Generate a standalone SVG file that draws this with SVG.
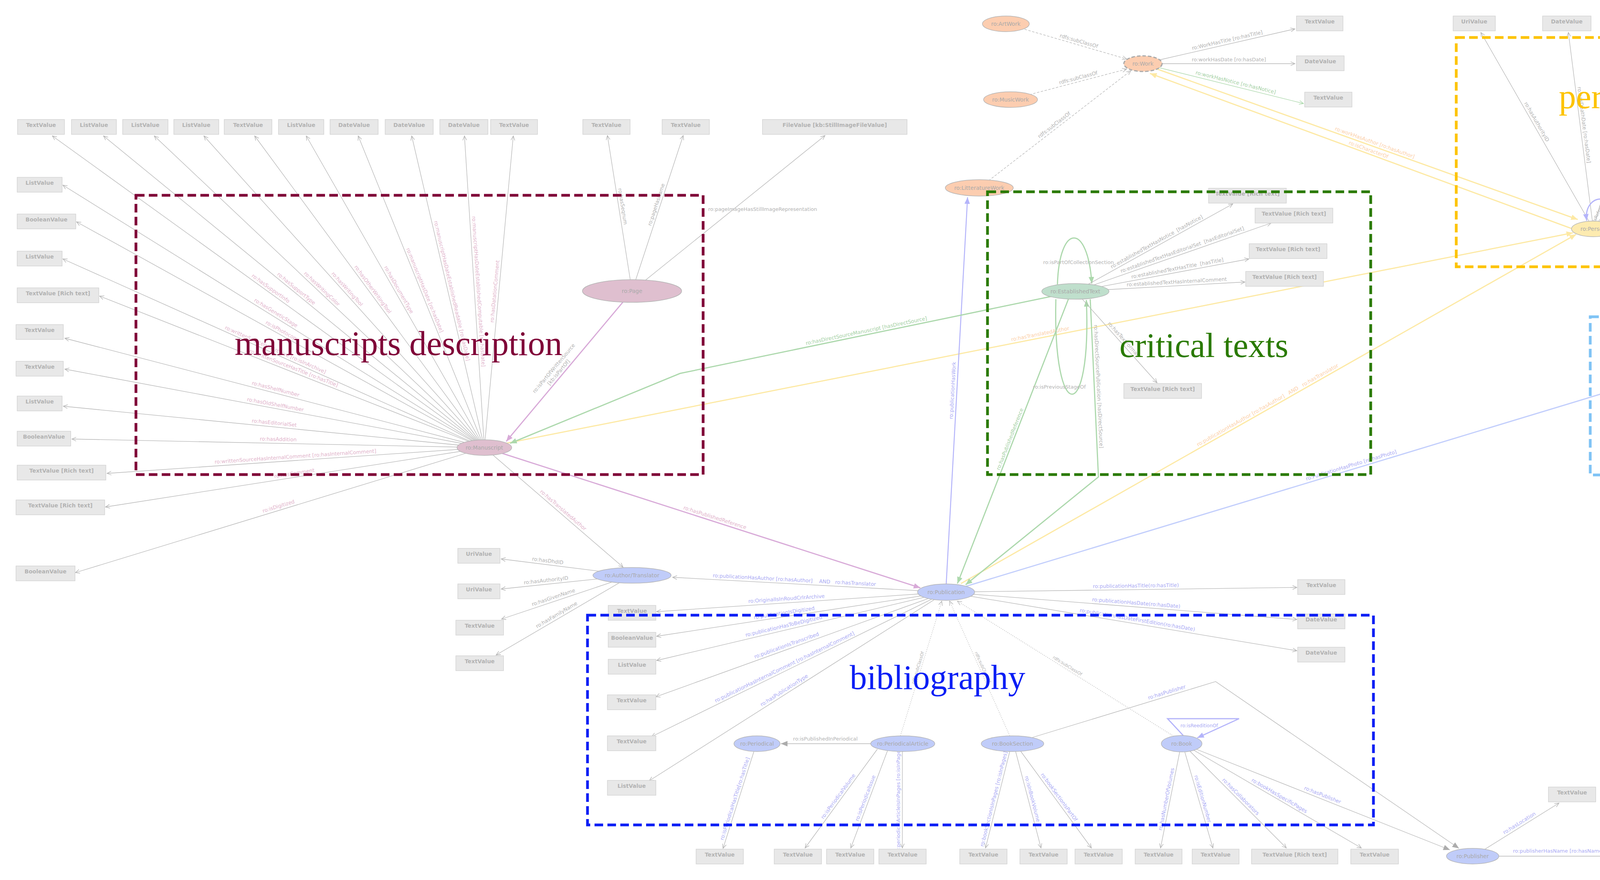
<svg xmlns="http://www.w3.org/2000/svg" width="5797" height="2253" viewBox="0 0 5797 2253">
<style>
.e{fill:none;stroke:#b4b4b4;stroke-width:1.3}
.ed{stroke-dasharray:6,4}
.ep{stroke-dasharray:2,3}
.tk{fill:none;stroke-width:3}
.cp{stroke:#d8aad8}.cg{stroke:#acd8ac}.cy{stroke:#fde9a4}.cb{stroke:#b4b4fa}.cl{stroke:#c2cefc}.cv{stroke:#e4d6fa}
.l{font-family:"DejaVu Sans",sans-serif;font-size:13px;text-anchor:middle}
.lp{fill:#dfb2ca}.lg{fill:#b2b2b2}.lb{fill:#a9a9f4}.lgr{fill:#a3cfa3}.lo{fill:#fccfa8}.ll{fill:#ddd0f6}
.bx{fill:#e8e8e8;stroke:#d4d4d4;stroke-width:1.5}
.bt{font-family:"DejaVu Sans",sans-serif;font-size:14px;font-weight:bold;fill:#b2b2b2;text-anchor:middle}
.nd{stroke:#b4b4b4;stroke-width:1.5}
.nt{font-family:"DejaVu Sans",sans-serif;font-size:14px;fill:#a9a9a9;text-anchor:middle}
.nm{fill:#dfbfcf}.nw{fill:#fccdb0}.ne{fill:#bfdfcc}.ny{fill:#fdebb0}.nph{fill:#ddebfb}.nb{fill:#c0ccf9}
.fr{fill:none;stroke-width:7;stroke-dasharray:22,11}
.rt{font-family:"Liberation Serif",serif;font-size:88px;text-anchor:middle}
</style>
<defs>
<marker id="aG" markerUnits="userSpaceOnUse" markerWidth="14" markerHeight="12" refX="12" refY="6" orient="auto"><path d="M1,1 L12,6 L1,11" fill="none" stroke="#b0b0b0" stroke-width="1.3"/></marker>
<marker id="aGr" markerUnits="userSpaceOnUse" markerWidth="14" markerHeight="12" refX="12" refY="6" orient="auto"><path d="M1,1 L12,6 L1,11" fill="none" stroke="#a8d8a8" stroke-width="1.3"/></marker>
<marker id="aL" markerUnits="userSpaceOnUse" markerWidth="14" markerHeight="12" refX="12" refY="6" orient="auto"><path d="M1,1 L12,6 L1,11" fill="none" stroke="#d8c8f6" stroke-width="1.3"/></marker>
<marker id="fP" markerUnits="userSpaceOnUse" markerWidth="18" markerHeight="14" refX="17" refY="7" orient="auto"><path d="M0,0 L17,7 L0,14 Z" fill="#d8aad8"/></marker>
<marker id="fGr" markerUnits="userSpaceOnUse" markerWidth="18" markerHeight="14" refX="17" refY="7" orient="auto"><path d="M0,0 L17,7 L0,14 Z" fill="#acd8ac"/></marker>
<marker id="fY" markerUnits="userSpaceOnUse" markerWidth="18" markerHeight="14" refX="17" refY="7" orient="auto"><path d="M0,0 L17,7 L0,14 Z" fill="#fde9a4"/></marker>
<marker id="fB" markerUnits="userSpaceOnUse" markerWidth="18" markerHeight="14" refX="17" refY="7" orient="auto"><path d="M0,0 L17,7 L0,14 Z" fill="#b4b4fa"/></marker>
<marker id="fBl" markerUnits="userSpaceOnUse" markerWidth="18" markerHeight="14" refX="17" refY="7" orient="auto"><path d="M0,0 L17,7 L0,14 Z" fill="#c2cefc"/></marker>
<marker id="fL" markerUnits="userSpaceOnUse" markerWidth="18" markerHeight="14" refX="17" refY="7" orient="auto-start-reverse"><path d="M0,0 L17,7 L0,14 Z" fill="#e4d6fa"/></marker>
<marker id="fGy" markerUnits="userSpaceOnUse" markerWidth="18" markerHeight="14" refX="17" refY="7" orient="auto"><path d="M0,0 L17,7 L0,14 Z" fill="#acacac"/></marker>
</defs>
<rect x="0" y="0" width="5797" height="2253" fill="#ffffff"/>

<g id="connectors">
<!-- manuscript fan -->
<path class="e" d="M1240,1146 L134,348" marker-end="url(#aG)"/>
<path class="e" d="M1240,1146 L265,348" marker-end="url(#aG)"/>
<path class="e" d="M1240,1146 L395,348" marker-end="url(#aG)"/>
<path class="e" d="M1240,1146 L522,348" marker-end="url(#aG)"/>
<path class="e" d="M1240,1146 L652,348" marker-end="url(#aG)"/>
<path class="e" d="M1240,1146 L784,348" marker-end="url(#aG)"/>
<path class="e" d="M1240,1146 L917,348" marker-end="url(#aG)"/>
<path class="e" d="M1240,1146 L1054,348" marker-end="url(#aG)"/>
<path class="e" d="M1240,1146 L1189,348" marker-end="url(#aG)"/>
<path class="e" d="M1240,1146 L1314,348" marker-end="url(#aG)"/>
<path class="e" d="M1240,1146 L161,474" marker-end="url(#aG)"/>
<path class="e" d="M1240,1146 L196,568" marker-end="url(#aG)"/>
<path class="e" d="M1240,1146 L161,663" marker-end="url(#aG)"/>
<path class="e" d="M1240,1146 L255,758" marker-end="url(#aG)"/>
<path class="e" d="M1240,1146 L166,866" marker-end="url(#aG)"/>
<path class="e" d="M1240,1146 L166,945" marker-end="url(#aG)"/>
<path class="e" d="M1240,1146 L162,1040" marker-end="url(#aG)"/>
<path class="e" d="M1240,1146 L184,1124" marker-end="url(#aG)"/>
<path class="e" d="M1240,1146 L274,1212" marker-end="url(#aG)"/>
<path class="e" d="M1240,1146 L270,1298" marker-end="url(#aG)"/>
<path class="e" d="M1240,1146 L193,1466" marker-end="url(#aG)"/>
<text class="l lp" transform="translate(687 747) rotate(35.8)" y="-6">ro:hasSupportInfo</text>
<text class="l lp" transform="translate(752 747) rotate(39.3)" y="-6">ro:hasSupportType</text>
<text class="l lp" transform="translate(817 747) rotate(43.4)" y="-6">ro:hasWritingColor</text>
<text class="l lp" transform="translate(881 747) rotate(48)" y="-6">ro:hasWritingTool</text>
<text class="l lp" transform="translate(946 747) rotate(53.6)" y="-6">ro:hasOtherWritingTool</text>
<text class="l lp" transform="translate(1012 747) rotate(60.3)" y="-6">ro:hasDocumentType</text>
<text class="l lp" transform="translate(1078 747) rotate(68)" y="-6">ro:manuscriptHasDate [ro:hasDate]</text>
<text class="l lp" transform="translate(1147 747) rotate(76.9)" y="-6">ro:manuscriptHasDateEstablishedReadable [ro:hasDate]</text>
<text class="l lp" transform="translate(1215 747) rotate(86.3)" y="-6">ro:manuscriptHasDateEstablishedComputable [ro:hasDate]</text>
<text class="l lp" transform="translate(1277 747) rotate(-84.7)" y="-6">ro:hasDatationComment</text>
<text class="l lp" transform="translate(701 810) rotate(31.9)" y="-6">ro:hasGeneticStage</text>
<text class="l lp" transform="translate(718 857) rotate(29)" y="-6">ro:isPhotocopy</text>
<text class="l lp" transform="translate(701 905) rotate(24.1)" y="-6">ro:writtenSourceIsInArchive [ro:isInArchive]</text>
<text class="l lp" transform="translate(748 952) rotate(21.5)" y="-6">ro:writtenSourceHasTitle [ro:hasTitle]</text>
<text class="l lp" transform="translate(703 1006) rotate(14.6)" y="-6">ro:hasShelfNumber</text>
<text class="l lp" transform="translate(703 1046) rotate(10.6)" y="-6">ro:hasOldShelfNumber</text>
<text class="l lp" transform="translate(701 1093) rotate(5.6)" y="-6">ro:hasEditorialSet</text>
<text class="l lp" transform="translate(712 1135) rotate(1.2)" y="-6">ro:hasAddition</text>
<text class="l lp" transform="translate(757 1179) rotate(-3.9)" y="-6">ro:writtenSourceHasInternalComment [ro:hasInternalComment]</text>
<text class="l lp" transform="translate(755 1222) rotate(-8.9)" y="-6">ro:hasComment</text>
<text class="l lp" transform="translate(716 1306) rotate(-17)" y="-6">ro:isDigitized</text>

<!-- page -->
<path class="e" d="M1618,745 L1555,347" marker-end="url(#aG)"/>
<path class="e" d="M1618,745 L1749,347" marker-end="url(#aG)"/>
<path class="e" d="M1618,745 L2112,347" marker-end="url(#aG)"/>
<text class="l lg" transform="translate(1584 530) rotate(81)" y="-6">ro:hasSeqnum</text>
<text class="l lg" transform="translate(1690 527) rotate(-71.8)" y="-6">ro:pageHasName</text>
<text class="l lg" x="1813" y="540" style="text-anchor:start">ro:pageImageHasStillImageRepresentation</text>
<path class="tk cp" d="M1595,773 L1296,1130" marker-end="url(#fP)"/>
<text class="l lg" transform="translate(1438 960) rotate(-50)"><tspan x="0" y="-22">ro:isPartOfWrittenSource</tspan><tspan x="0" y="-6">[kb:isPartOf]</tspan></text>

<!-- manuscript to author / publication / person -->
<path class="e" d="M1240,1146 L1595,1452" marker-end="url(#aG)"/>
<text class="l lp" transform="translate(1435 1314) rotate(40.8)" y="-6">ro:hasTranslatedAuthor</text>
<path class="tk cp" d="M1240,1146 L2356,1505" marker-end="url(#fP)"/>
<text class="l lp" transform="translate(1827 1335) rotate(17.8)" y="-6">ro:hasPublishedReference</text>
<path class="tk cy" d="M1240,1146 L4027,596" marker-end="url(#fY)"/>
<text class="l lo" transform="translate(2665 865) rotate(-11.2)" y="-6">ro:hasTranslatedAuthor</text>

<!-- author/translator -->
<path class="e" d="M1618,1473 L1283,1431" marker-end="url(#aG)"/>
<path class="e" d="M1618,1473 L1283,1508" marker-end="url(#aG)"/>
<path class="e" d="M1618,1473 L1284,1585" marker-end="url(#aG)"/>
<path class="e" d="M1618,1473 L1270,1677" marker-end="url(#aG)"/>
<text class="l lg" transform="translate(1401 1446) rotate(7.1)" y="-6">ro:hasDhdID</text>
<text class="l lg" transform="translate(1399 1496) rotate(-6)" y="-6">ro:hasAuthorityID</text>
<text class="l lg" transform="translate(1420 1539) rotate(-18.5)" y="-6">ro:hasGivenName</text>
<text class="l lg" transform="translate(1430 1583) rotate(-30.4)" y="-6">ro:hasFamilyName</text>

<!-- publication -->
<path class="e" d="M2422,1516 L1722,1478" marker-end="url(#aG)"/>
<text class="l lb" transform="translate(2033 1495) rotate(3.1)" y="-6">ro:publicationHasAuthor [ro:hasAuthor]&#160;&#160;&#160;&#160;AND&#160;&#160;&#160;ro:hasTranslator</text>
<path class="e" d="M2422,1516 L1681,1566" marker-end="url(#aG)"/>
<path class="e" d="M2422,1516 L1681,1629" marker-end="url(#aG)"/>
<path class="e" d="M2422,1516 L1681,1691" marker-end="url(#aG)"/>
<path class="e" d="M2422,1516 L1679,1784" marker-end="url(#aG)"/>
<path class="e" d="M2422,1516 L1668,1886" marker-end="url(#aG)"/>
<path class="e" d="M2422,1516 L1662,1999" marker-end="url(#aG)"/>
<text class="l lb" transform="translate(2014 1543) rotate(-3.9)" y="-6">ro:OriginalIsInRoudCrlrArchive</text>
<text class="l lb" transform="translate(2009 1579) rotate(-8.7)" y="-6">ro:publicationIsDigitized</text>
<text class="l lb" transform="translate(2009 1613) rotate(-13.3)" y="-6">ro:publicationHasToBeDigitized</text>
<text class="l lb" transform="translate(2017 1662) rotate(-19.8)" y="-6">ro:publicationIsTranscribed</text>
<text class="l lb" transform="translate(2013 1717) rotate(-26.1)" y="-6">ro:publicationHasInternalComment [ro:hasInternalComment]</text>
<text class="l lb" transform="translate(2013 1776) rotate(-32.4)" y="-6">ro:hasPublicationType</text>
<path class="e" d="M2422,1516 L3320,1504" marker-end="url(#aG)"/>
<path class="e" d="M2422,1516 L3320,1586" marker-end="url(#aG)"/>
<path class="e" d="M2422,1516 L3320,1666" marker-end="url(#aG)"/>
<text class="l lb" transform="translate(2908 1510) rotate(-0.8)" y="-6">ro:publicationHasTitle(ro:hasTitle)</text>
<text class="l lb" transform="translate(2908 1554) rotate(4.5)" y="-6">ro:publicationHasDate(ro:hasDate)</text>
<text class="l lb" transform="translate(2910 1597) rotate(9.5)" y="-6">ro:publicationHasDateFirstEdition(ro:hasDate)</text>
<path class="cb" fill="none" stroke-width="2.5" d="M2422,1500 L2477,505" marker-end="url(#fB)"/>
<text class="l lb" transform="translate(2449 1000) rotate(-86.9)" y="-6">ro:publicationHasWork</text>
<path class="tk cl" d="M2470,1502 L4441,905" marker-end="url(#fBl)"/>
<text class="l lb" transform="translate(3462 1201) rotate(-16.8)" y="-6">ro:PublicationHasPhoto [ro:hasPhoto]</text>
<path class="tk cy" d="M2460,1494 L4035,600" marker-end="url(#fY)"/>
<text class="l lo" transform="translate(3250 1046) rotate(-29.6)" y="-6">ro:publicationHasAuthor [ro:hasAuthor]&#160;&#160;&#160;AND&#160;&#160;&#160;ro:hasTranslator</text>

<!-- established text -->
<path class="tk cg" d="M2710,755 L1741,956 L1306,1135" marker-end="url(#fGr)"/>
<text class="l lgr" transform="translate(2220 857) rotate(-11.7)" y="-6">ro:hasDirectSourceManuscript [hasDirectSource]</text>
<path class="tk cg" d="M2735,766 L2451,1494" marker-end="url(#fGr)"/>
<text class="l lgr" transform="translate(2595 1128) rotate(-68.7)" y="-6">ro:hasPublishedReference</text>
<path class="tk cg" d="M2791,766 L2812,1221 L2472,1497" marker-end="url(#fGr)"/>
<text class="l lg" transform="translate(2802 990) rotate(87.4)" y="-6">ro:hasDirectSourcePublication [hasDirectSource]</text>
<path class="tk cg" d="M2707,728 C2712,570 2785,570 2795,726" marker-end="url(#fGr)"/>
<text class="l lg" x="2761" y="676">ro:isPartOfCollectionSection</text>
<path class="tk cg" d="M2703,766 C2695,1090 2795,1090 2781,768" marker-end="url(#fGr)"/>
<text class="l lg" x="2712" y="995">ro:isPreviousStageOf</text>
<path class="e" d="M2753,746 L3156,522" marker-end="url(#aG)"/>
<path class="e" d="M2753,746 L3254,571" marker-end="url(#aG)"/>
<path class="e" d="M2753,746 L3197,663" marker-end="url(#aG)"/>
<path class="e" d="M2753,746 L3187,722" marker-end="url(#aG)"/>
<path class="e" d="M2753,746 L2962,980" marker-end="url(#aG)"/>
<text class="l lg" transform="translate(2966 628) rotate(-29.1)" y="-6">ro:establishedTextHasNotice&#160;&#160;[hasNotice]</text>
<text class="l lg" transform="translate(3030 649) rotate(-19.3)" y="-6">ro:establishedTextHasEditorialSet&#160;&#160;[hasEditorialSet]</text>
<text class="l lg" transform="translate(3016 697) rotate(-10.6)" y="-6">ro:establishedTextHasTitle&#160;&#160;[hasTitle]</text>
<text class="l lg" transform="translate(3013 732) rotate(-3.2)" y="-6">ro:establishedTextHasInternalComment</text>
<text class="l lg" transform="translate(2868 875) rotate(48.2)" y="-6">ro:hasTextFormat</text>

<!-- work -->
<path class="e" d="M2926,163 L3315,74" marker-end="url(#aG)"/>
<path class="e" d="M2926,163 L3315,163" marker-end="url(#aG)"/>
<path class="e cg" d="M2926,163 L3337,265" marker-end="url(#aGr)"/>
<text class="l lg" transform="translate(3144 113) rotate(-12.9)" y="-6">ro:WorkHasTitle [ro:hasTitle]</text>
<text class="l lg" x="3146" y="157">ro:workHasDate [ro:hasDate]</text>
<text class="l lgr" transform="translate(3161 221) rotate(13.9)" y="-6">ro:workHasNotice [ro:hasNotice]</text>
<path class="e ed" d="M2575,61 L2884,151" marker-end="url(#aG)"/>
<path class="e ed" d="M2587,255 L2884,177" marker-end="url(#aG)"/>
<path class="e ed" d="M2507,481 L2895,181" marker-end="url(#aG)"/>
<text class="l lg" transform="translate(2759 115) rotate(16.2)" y="-6">rdfs:subClassOf</text>
<text class="l lg" transform="translate(2763 209) rotate(-14.7)" y="-6">rdfs:subClassOf</text>
<text class="l lg" transform="translate(2705 328) rotate(-37.7)" y="-6">rdfs:subClassOf</text>
<path class="tk cy" d="M2960,176 L4039,562" marker-end="url(#fY)"/>
<text class="l lo" transform="translate(3516 375) rotate(19.7)" y="-6">ro:workHasAuthor [ro:hasAuthor]</text>
<path class="tk cy" d="M4023,585 L2944,188" marker-end="url(#fY)"/>
<text class="l lo" transform="translate(3500 393) rotate(20.2)" y="-6">ro:isCharacterOf</text>

<!-- person -->
<path class="e" d="M4079,586 L3791,83" marker-end="url(#aG)"/>
<path class="e" d="M4079,586 L4015,83" marker-end="url(#aG)"/>
<path class="e" d="M4079,586 L4220,83" marker-end="url(#aG)"/>
<path class="e" d="M4079,586 L4427,83" marker-end="url(#aG)"/>
<path class="e" d="M4079,586 L4635,82" marker-end="url(#aG)"/>
<path class="e cg" d="M4079,586 L4823,91" marker-end="url(#aGr)"/>
<text class="l lg" transform="translate(3925 317) rotate(60.2)" y="-6">ro:hasAuthorityID</text>
<text class="l lg" transform="translate(4045 321) rotate(82.7)" y="-6">ro:hasDeathDate [ro:hasDate]</text>
<text class="l lg" transform="translate(4153 321) rotate(-74.3)" y="-6">ro:hasBirthDate [ro:hasDate]</text>
<text class="l lg" transform="translate(4265 317) rotate(-55.3)" y="-6">ro:hasGivenName</text>
<text class="l lg" transform="translate(4376 317) rotate(-42.2)" y="-6">ro:hasFamilyName</text>
<text class="l lgr" transform="translate(4473 324) rotate(-33.6)" y="-6">ro:personHasNotice [ro:hasNotice]</text>
<path class="tk cb" d="M4125,572 C4152,492 4052,488 4062,565" marker-end="url(#fB)"/>
<text class="l lg" style="font-size:11px" transform="translate(4098 538) rotate(-65)">ro:isReferenceFor</text>
<path class="tk cl" d="M4126,596 L4458,848" marker-end="url(#fBl)"/>
<text class="l lb" transform="translate(4312 737) rotate(37.2)" y="-6">ro:personHasPhoto [ro:hasPhoto]</text>
<path class="tk cy" d="M4441,852 L4110,603" marker-end="url(#fY)"/>
<text class="l lo" transform="translate(4262 723) rotate(37)" y="16">ro:photoHasTopic [ro:hasTopic]</text>

<!-- bioevent -->
<path class="e" d="M5385,353 L5386,92" marker-end="url(#aG)"/>
<text class="l lg" transform="translate(5385 221) rotate(-90)" y="-6">ro:bioeventHasDate [ro:hasDate]</text>
<path class="e cv" stroke-width="2" d="M5398,354 L5666,151" marker-start="url(#fL)" marker-end="url(#aL)"/>
<text class="l lg" transform="translate(5526 257) rotate(-37.1)" y="-6">ro:bioeventHasTitle [ro:hasTitle]</text>
<path class="e cg" d="M5370,373 L5608,633" marker-end="url(#aGr)"/>
<text class="l lgr" transform="translate(5500 515) rotate(47.5)" y="-6">ro:bioeventHasNotice [ro:hasNotice]</text>
<path class="e cv" stroke-width="2" d="M5601,660 C5450,680 5290,680 5298,560 C5300,500 5330,440 5358,395" marker-end="url(#fL)"/>
<text class="l ll" transform="translate(5459 634) rotate(3)" y="-6">kb:hasStandoffLinkTo</text>
<path class="tk cl" d="M5340,390 L4550,850" marker-end="url(#fBl)"/>
<text class="l lb" transform="translate(4935 626) rotate(-30.2)" y="-6">ro:bioeventHasPhoto [ro:hasPhoto]</text>

<!-- photo -->
<path class="e" d="M4507,878 L4937,863" marker-end="url(#aG)"/>
<path class="e" d="M4507,878 L4937,954" marker-end="url(#aG)"/>
<path class="e" d="M4507,878 L4944,1063" marker-end="url(#aG)"/>
<path class="e cg" d="M4507,878 L4701,1154" marker-end="url(#aGr)"/>
<text class="l lg" transform="translate(4783 868) rotate(-2)" y="-6">ro:photoHasDate [ro:hasDate]</text>
<text class="l lg" transform="translate(4774 925) rotate(10)" y="-6">ro:photoHasShelfNumber [ro:hasShelfNumber]</text>
<text class="l lg" transform="translate(4739 976) rotate(22.9)" y="-6">ro:photoIsInArchive [ro:isInArchive]</text>
<text class="l lgr" transform="translate(4613 1029) rotate(54.9)" y="-6">ro:photoHasNotice [ro:hasNotice]</text>

<!-- place -->
<path class="e cv" stroke-width="2" d="M5600,1297 C5450,1285 5340,1300 5300,1360 C5260,1410 5228,1445 5212,1476" marker-end="url(#fL)"/>
<text class="l ll" transform="translate(5478 1300) rotate(-2)" y="-4">kb:hasStandoffLinkTo</text>
<path class="e cg" d="M5192,1497 L5642,1322" marker-end="url(#aGr)"/>
<path class="e" d="M5192,1497 L5599,1411" marker-end="url(#aG)"/>
<path class="e" d="M5192,1497 L5599,1496" marker-end="url(#aG)"/>
<path class="e" d="M5192,1497 L5599,1572" marker-end="url(#aG)"/>
<text class="l lgr" transform="translate(5438 1401) rotate(-21.3)" y="-6">ro:placeHasNotice [ro:hasNotice]</text>
<text class="l lg" transform="translate(5419 1449) rotate(-11.9)" y="-6">ro:hasLongitude</text>
<text class="l lg" x="5421" y="1491">ro:hasLatitude</text>
<text class="l lg" transform="translate(5423 1540) rotate(10.4)" y="-6">ro:placeHasName (ro:hasName)</text>
<path class="tk cl" d="M5180,1480 L4579,907" marker-end="url(#fBl)"/>
<text class="l lb" transform="translate(4882 1199) rotate(43.9)" y="-6">ro:placeHasPhoto [ro:hasPhoto]</text>

<!-- bibliography -->
<path class="e ep" d="M2305,1884 L2411,1539" marker-end="url(#aG)"/>
<path class="e ep" d="M2585,1884 L2431,1539" marker-end="url(#aG)"/>
<path class="e ep" d="M3005,1885 L2451,1539" marker-end="url(#aG)"/>
<text class="l lg" style="font-size:11px" transform="translate(2358 1712) rotate(-72.9)" y="-5">rdfs:subClassOf</text>
<text class="l lg" style="font-size:11px" transform="translate(2508 1712) rotate(66)" y="-5">rdfs:subClassOf</text>
<text class="l lg" style="font-size:11px" transform="translate(2728 1712) rotate(32)" y="-5">rdfs:subClassOf</text>
<path class="e" stroke-width="2" d="M2229,1904 L1999,1904" marker-end="url(#fGy)"/>
<text class="l lg" x="2113" y="1896">ro:isPublishedInPeriodical</text>
<path class="e" d="M1930,1924 L1851,2172" marker-end="url(#aG)"/>
<text class="l lb" transform="translate(1891 2048) rotate(-72.3)" y="-6">ro:isPeriodicalHasTitle[ro:hasTitle]</text>
<path class="e" d="M2246,1918 L2061,2171" marker-end="url(#aG)"/>
<path class="e" d="M2272,1922 L2178,2171" marker-end="url(#aG)"/>
<path class="e" d="M2310,1924 L2310,2171" marker-end="url(#aG)"/>
<text class="l lb" transform="translate(2154 2045) rotate(-53.8)" y="-6">ro:isPeriodicalVolume</text>
<text class="l lb" transform="translate(2225 2047) rotate(-69.3)" y="-6">ro:isPeriodicalIssue</text>
<text class="l lb" transform="translate(2310 2048) rotate(-90)" y="-6">ro:periodicalArticleIsInPages [ro:isInPages]</text>
<path class="e" d="M2585,1924 L2523,2171" marker-end="url(#aG)"/>
<path class="e" d="M2600,1924 L2665,2171" marker-end="url(#aG)"/>
<path class="e" d="M2612,1922 L2794,2171" marker-end="url(#aG)"/>
<text class="l lb" transform="translate(2554 2048) rotate(-75.9)" y="-6">ro:bookSectionIsInPages [ro:isInPages]</text>
<text class="l lb" transform="translate(2633 2048) rotate(75.3)" y="-6">ro:isInBookVolume</text>
<text class="l lb" transform="translate(2703 2047) rotate(53.8)" y="-6">ro:bookSectionIsPartOf</text>
<path class="e" d="M2643,1888 L3112,1745 L3735,2172" marker-end="url(#fGy)"/>
<text class="l lb" transform="translate(2990 1782) rotate(-17)" y="-6">ro:hasPublisher</text>
<path class="e" d="M3020,1925 L2971,2171" marker-end="url(#aG)"/>
<path class="e" d="M3033,1925 L3105,2171" marker-end="url(#aG)"/>
<path class="e" d="M3045,1922 L3293,2171" marker-end="url(#aG)"/>
<path class="e" d="M3055,1920 L3485,2171" marker-end="url(#aG)"/>
<path class="e" d="M3062,1918 L3712,2176" marker-end="url(#fGy)"/>
<text class="l lb" transform="translate(2996 2048) rotate(-78.7)" y="-6">ro:hasNumberOfVolumes</text>
<text class="l lb" transform="translate(3069 2048) rotate(73.7)" y="-6">ro:isEditionNumber</text>
<text class="l lb" transform="translate(3169 2047) rotate(45.1)" y="-6">ro:hasCollaborators</text>
<text class="l lb" transform="translate(3270 2046) rotate(30.3)" y="-6">ro:bookHasSpecificPages</text>
<text class="l lb" transform="translate(3382 2045) rotate(21.6)" y="-6">ro:hasPublisher</text>
<path class="tk cb" d="M3029,1883 L2989,1840 L3172,1840 L3065,1889" marker-end="url(#fB)"/>
<text class="l lb" style="font-size:12px" x="3070" y="1862">ro:isReeditionOf</text>
<path class="e" d="M3837,2192 L4139,2192" marker-end="url(#aG)"/>
<text class="l lb" x="3990" y="2183">ro:publisherHasName [ro:hasName]</text>
<path class="e" d="M3800,2175 L3991,2056" marker-end="url(#aG)"/>
<text class="l lb" transform="translate(3895 2116) rotate(-31.9)" y="-6">ro:hasLocation</text>
</g>

<g id="values">
<g id="b_t1"><rect class="bx" x="45" y="306" width="120" height="38"/><text class="bt" x="105" y="325">TextValue</text></g>
<g id="b_t2"><rect class="bx" x="183" y="306" width="115" height="38"/><text class="bt" x="240.5" y="325">ListValue</text></g>
<g id="b_t3"><rect class="bx" x="314" y="306" width="116" height="38"/><text class="bt" x="372" y="325">ListValue</text></g>
<g id="b_t4"><rect class="bx" x="445" y="306" width="115" height="38"/><text class="bt" x="502.5" y="325">ListValue</text></g>
<g id="b_t5"><rect class="bx" x="574" y="306" width="122" height="38"/><text class="bt" x="635" y="325">TextValue</text></g>
<g id="b_t6"><rect class="bx" x="713" y="306" width="116" height="38"/><text class="bt" x="771" y="325">ListValue</text></g>
<g id="b_t7"><rect class="bx" x="845" y="306" width="123" height="38"/><text class="bt" x="906.5" y="325">DateValue</text></g>
<g id="b_t8"><rect class="bx" x="986" y="306" width="123" height="38"/><text class="bt" x="1047.5" y="325">DateValue</text></g>
<g id="b_t9"><rect class="bx" x="1126" y="306" width="123" height="38"/><text class="bt" x="1187.5" y="325">DateValue</text></g>
<g id="b_t10"><rect class="bx" x="1256" y="306" width="120" height="38"/><text class="bt" x="1316" y="325">TextValue</text></g>
<g id="b_pg1"><rect class="bx" x="1492" y="306" width="121" height="38"/><text class="bt" x="1552.5" y="325">TextValue</text></g>
<g id="b_pg2"><rect class="bx" x="1695" y="306" width="121" height="38"/><text class="bt" x="1755.5" y="325">TextValue</text></g>
<g id="b_pg3"><rect class="bx" x="1952" y="306" width="370" height="38"/><text class="bt" x="2137" y="325">FileValue [kb:StillImageFileValue]</text></g>
<g id="b_l1"><rect class="bx" x="44" y="454" width="115" height="38"/><text class="bt" x="101.5" y="473">ListValue</text></g>
<g id="b_l2"><rect class="bx" x="44" y="548" width="150" height="38"/><text class="bt" x="119" y="567">BooleanValue</text></g>
<g id="b_l3"><rect class="bx" x="44" y="643" width="115" height="38"/><text class="bt" x="101.5" y="662">ListValue</text></g>
<g id="b_l4"><rect class="bx" x="44" y="737" width="209" height="38"/><text class="bt" x="148.5" y="756">TextValue [Rich text]</text></g>
<g id="b_l5"><rect class="bx" x="41" y="831" width="121" height="38"/><text class="bt" x="101.5" y="850">TextValue</text></g>
<g id="b_l6"><rect class="bx" x="41" y="925" width="121" height="38"/><text class="bt" x="101.5" y="944">TextValue</text></g>
<g id="b_l7"><rect class="bx" x="44" y="1014" width="115" height="38"/><text class="bt" x="101.5" y="1033">ListValue</text></g>
<g id="b_l8"><rect class="bx" x="44" y="1104" width="137" height="38"/><text class="bt" x="112.5" y="1123">BooleanValue</text></g>
<g id="b_l9"><rect class="bx" x="44" y="1191" width="227" height="38"/><text class="bt" x="157.5" y="1210">TextValue [Rich text]</text></g>
<g id="b_l10"><rect class="bx" x="41" y="1280" width="227" height="38"/><text class="bt" x="154.5" y="1299">TextValue [Rich text]</text></g>
<g id="b_l11"><rect class="bx" x="41" y="1449" width="151" height="38"/><text class="bt" x="116.5" y="1468">BooleanValue</text></g>
<g id="b_w1"><rect class="bx" x="3319" y="41" width="119" height="38"/><text class="bt" x="3378.5" y="60">TextValue</text></g>
<g id="b_w2"><rect class="bx" x="3319" y="143" width="122" height="38"/><text class="bt" x="3380" y="162">DateValue</text></g>
<g id="b_w3"><rect class="bx" x="3340" y="236" width="121" height="38"/><text class="bt" x="3400.5" y="255">TextValue</text></g>
<g id="b_c1"><rect class="bx" x="3094" y="482" width="199" height="38"/><text class="bt" x="3193.5" y="501">TextValue [Rich text]</text></g>
<g id="b_c2"><rect class="bx" x="3213" y="533" width="199" height="38"/><text class="bt" x="3312.5" y="552">TextValue [Rich text]</text></g>
<g id="b_c3"><rect class="bx" x="3198" y="624" width="199" height="38"/><text class="bt" x="3297.5" y="643">TextValue [Rich text]</text></g>
<g id="b_c4"><rect class="bx" x="3189" y="695" width="199" height="38"/><text class="bt" x="3288.5" y="714">TextValue [Rich text]</text></g>
<g id="b_c5"><rect class="bx" x="2877" y="982" width="199" height="38"/><text class="bt" x="2976.5" y="1001">TextValue [Rich text]</text></g>
<g id="b_p1"><rect class="bx" x="3720" y="41" width="108" height="38"/><text class="bt" x="3774" y="60">UriValue</text></g>
<g id="b_p2"><rect class="bx" x="3949" y="41" width="124" height="38"/><text class="bt" x="4011" y="60">DateValue</text></g>
<g id="b_p3"><rect class="bx" x="4164" y="41" width="123" height="38"/><text class="bt" x="4225.5" y="60">DateValue</text></g>
<g id="b_p4"><rect class="bx" x="4381" y="41" width="121" height="38"/><text class="bt" x="4441.5" y="60">TextValue</text></g>
<g id="b_p5"><rect class="bx" x="4596" y="41" width="121" height="38"/><text class="bt" x="4656.5" y="60">TextValue</text></g>
<g id="b_p6"><rect class="bx" x="4780" y="50" width="119" height="38"/><text class="bt" x="4839.5" y="69">TextValue</text></g>
<g id="b_e1"><rect class="bx" x="5358" y="50" width="123" height="38"/><text class="bt" x="5419.5" y="69">DateValue</text></g>
<g id="b_e2"><rect class="bx" x="5634" y="112" width="114" height="38"/><text class="bt" x="5691" y="131">TextValue</text></g>
<g id="b_e3"><rect class="bx" x="5601" y="635" width="120" height="38"/><text class="bt" x="5661" y="654">TextValue</text></g>
<g id="b_h1"><rect class="bx" x="4937" y="839" width="124" height="38"/><text class="bt" x="4999" y="858">DateValue</text></g>
<g id="b_h2"><rect class="bx" x="4939" y="941" width="122" height="38"/><text class="bt" x="5000" y="960">TextValue</text></g>
<g id="b_h3"><rect class="bx" x="4942" y="1063" width="115" height="38"/><text class="bt" x="4999.5" y="1082">ListValue</text></g>
<g id="b_h4"><rect class="bx" x="4691" y="1155" width="120" height="38"/><text class="bt" x="4751" y="1174">TextValue</text></g>
<g id="b_q1"><rect class="bx" x="5600" y="1282" width="121" height="38"/><text class="bt" x="5660.5" y="1301">TextValue</text></g>
<g id="b_q2"><rect class="bx" x="5600" y="1378" width="121" height="38"/><text class="bt" x="5660.5" y="1397">TextValue</text></g>
<g id="b_q3"><rect class="bx" x="5600" y="1475" width="121" height="38"/><text class="bt" x="5660.5" y="1494">TextValue</text></g>
<g id="b_q4"><rect class="bx" x="5600" y="1570" width="121" height="38"/><text class="bt" x="5660.5" y="1589">TextValue</text></g>
<g id="b_a1"><rect class="bx" x="1172" y="1404" width="108" height="38"/><text class="bt" x="1226" y="1423">UriValue</text></g>
<g id="b_a2"><rect class="bx" x="1172" y="1495" width="108" height="38"/><text class="bt" x="1226" y="1514">UriValue</text></g>
<g id="b_a3"><rect class="bx" x="1167" y="1588" width="122" height="38"/><text class="bt" x="1228" y="1607">TextValue</text></g>
<g id="b_a4"><rect class="bx" x="1167" y="1679" width="122" height="38"/><text class="bt" x="1228" y="1698">TextValue</text></g>
<g id="b_u1"><rect class="bx" x="1557" y="1550" width="122" height="38"/><text class="bt" x="1618" y="1569">TextValue</text></g>
<g id="b_u2"><rect class="bx" x="1557" y="1619" width="122" height="38"/><text class="bt" x="1618" y="1638">BooleanValue</text></g>
<g id="b_u3"><rect class="bx" x="1557" y="1688" width="122" height="38"/><text class="bt" x="1618" y="1707">ListValue</text></g>
<g id="b_u4"><rect class="bx" x="1555" y="1779" width="124" height="38"/><text class="bt" x="1617" y="1798">TextValue</text></g>
<g id="b_u5"><rect class="bx" x="1555" y="1884" width="124" height="38"/><text class="bt" x="1617" y="1903">TextValue</text></g>
<g id="b_u6"><rect class="bx" x="1555" y="1998" width="124" height="38"/><text class="bt" x="1617" y="2017">ListValue</text></g>
<g id="b_r1"><rect class="bx" x="3322" y="1484" width="121" height="38"/><text class="bt" x="3382.5" y="1503">TextValue</text></g>
<g id="b_r2"><rect class="bx" x="3322" y="1572" width="121" height="38"/><text class="bt" x="3382.5" y="1591">DateValue</text></g>
<g id="b_r3"><rect class="bx" x="3322" y="1657" width="121" height="38"/><text class="bt" x="3382.5" y="1676">DateValue</text></g>
<g id="b_z1"><rect class="bx" x="1782" y="2174" width="121" height="38"/><text class="bt" x="1842.5" y="2193">TextValue</text></g>
<g id="b_z2"><rect class="bx" x="1982" y="2174" width="121" height="38"/><text class="bt" x="2042.5" y="2193">TextValue</text></g>
<g id="b_z3"><rect class="bx" x="2116" y="2174" width="121" height="38"/><text class="bt" x="2176.5" y="2193">TextValue</text></g>
<g id="b_z4"><rect class="bx" x="2250" y="2174" width="121" height="38"/><text class="bt" x="2310.5" y="2193">TextValue</text></g>
<g id="b_z5"><rect class="bx" x="2457" y="2174" width="121" height="38"/><text class="bt" x="2517.5" y="2193">TextValue</text></g>
<g id="b_z6"><rect class="bx" x="2611" y="2174" width="121" height="38"/><text class="bt" x="2671.5" y="2193">TextValue</text></g>
<g id="b_z7"><rect class="bx" x="2752" y="2174" width="121" height="38"/><text class="bt" x="2812.5" y="2193">TextValue</text></g>
<g id="b_z8"><rect class="bx" x="2906" y="2174" width="120" height="38"/><text class="bt" x="2966" y="2193">TextValue</text></g>
<g id="b_z9"><rect class="bx" x="3052" y="2174" width="120" height="38"/><text class="bt" x="3112" y="2193">TextValue</text></g>
<g id="b_z10"><rect class="bx" x="3204" y="2174" width="221" height="38"/><text class="bt" x="3314.5" y="2193">TextValue [Rich text]</text></g>
<g id="b_z11"><rect class="bx" x="3458" y="2174" width="122" height="38"/><text class="bt" x="3519" y="2193">TextValue</text></g>
<g id="b_y1"><rect class="bx" x="3964" y="2015" width="121" height="38"/><text class="bt" x="4024.5" y="2034">TextValue</text></g>
<g id="b_y2"><rect class="bx" x="4141" y="2174" width="121" height="38"/><text class="bt" x="4201.5" y="2193">TextValue</text></g>
</g>

<g id="classes">
<g id="n_page"><ellipse class="nd nm" cx="1618" cy="745" rx="127" ry="29"/><text class="nt" x="1618" y="750">ro:Page</text></g>
<g id="n_manuscript"><ellipse class="nd nm" cx="1240" cy="1146" rx="70" ry="20"/><text class="nt" x="1240" y="1151">ro:Manuscript</text></g>
<g id="n_artwork"><ellipse class="nd nw" cx="2575" cy="61" rx="60" ry="20"/><text class="nt" x="2575" y="66">ro:ArtWork</text></g>
<g id="n_musicwork"><ellipse class="nd nw" cx="2587" cy="255" rx="69" ry="20"/><text class="nt" x="2587" y="260">ro:MusicWork</text></g>
<g id="n_work"><ellipse class="nw" cx="2926" cy="163" rx="49" ry="20" stroke="#aaaaaa" stroke-width="3" stroke-dasharray="9,5"/><text class="nt" x="2926" y="168">ro:Work</text></g>
<g id="n_litteraturework"><ellipse class="nd nw" cx="2507" cy="481" rx="87" ry="21"/><text class="nt" x="2507" y="486">ro:LitteratureWork</text></g>
<g id="n_establishedtext"><ellipse class="nd ne" cx="2753" cy="746" rx="86" ry="20"/><text class="nt" x="2753" y="751">ro:EstablishedText</text></g>
<g id="n_author"><ellipse class="nd nb" cx="1618" cy="1473" rx="100" ry="20"/><text class="nt" x="1618" y="1478">ro:Author/Translator</text></g>
<g id="n_publication"><ellipse class="nd nb" cx="2422" cy="1516" rx="73" ry="21"/><text class="nt" x="2422" y="1521">ro:Publication</text></g>
<g id="n_periodical"><ellipse class="nd nb" cx="1938" cy="1904" rx="59" ry="20"/><text class="nt" x="1938" y="1909">ro:Periodical</text></g>
<g id="n_periodicalarticle"><ellipse class="nd nb" cx="2311" cy="1904" rx="82" ry="20"/><text class="nt" x="2311" y="1909">ro:PeriodicalArticle</text></g>
<g id="n_booksection"><ellipse class="nd nb" cx="2592" cy="1904" rx="80" ry="20"/><text class="nt" x="2592" y="1909">ro:BookSection</text></g>
<g id="n_book"><ellipse class="nd nb" cx="3025" cy="1904" rx="52" ry="21"/><text class="nt" x="3025" y="1909">ro:Book</text></g>
<g id="n_publisher"><ellipse class="nd nb" cx="3770" cy="2192" rx="67" ry="20"/><text class="nt" x="3770" y="2197">ro:Publisher</text></g>
<g id="n_person"><ellipse class="nd ny" cx="4079" cy="586" rx="56" ry="20"/><text class="nt" x="4079" y="591">ro:Person</text></g>
<g id="n_bioevent"><ellipse class="nd ny" cx="5370" cy="373" rx="63" ry="20"/><text class="nt" x="5370" y="378">ro:Bioevent</text></g>
<g id="n_photo"><ellipse class="nd nph" cx="4507" cy="878" rx="126" ry="29"/><text class="nt" style="font-size:13px" x="4507" y="872">ro:Photo</text><text class="nt" style="font-size:13px" x="4507" y="891">[kb:StillImageRepresentation]</text></g>
<g id="n_place"><ellipse class="nd ny" cx="5192" cy="1497" rx="49" ry="20"/><text class="nt" x="5192" y="1502">ro:Place</text></g>
</g>

<g id="regions">
<rect class="fr" x="348" y="500" width="1452" height="715" stroke="#7f0037"/>
<text class="rt" x="1020" y="909" fill="#7f0037">manuscripts description</text>
<rect class="fr" x="2528" y="491" width="981" height="724" stroke="#2a7a00"/>
<text class="rt" x="3082" y="914" fill="#2a7a00">critical texts</text>
<rect class="fr" x="3728" y="96" width="900" height="587" stroke="#fdc300"/>
<text class="rt" x="4125" y="277" fill="#fdc300">persons</text>
<rect class="fr" x="4949" y="87" width="803" height="589" stroke="#fdc300"/>
<text class="rt" x="5337" y="277" fill="#fdc300">bioevents</text>
<rect class="fr" x="4071" y="811" width="769" height="405" stroke="#7fc3f5"/>
<text class="rt" x="4403" y="1040" fill="#7fc3f5">photos</text>
<rect class="fr" x="4972" y="1215" width="779" height="567" stroke="#fdc300"/>
<text class="rt" x="5285" y="1632" fill="#fdc300">places</text>
<rect class="fr" x="1504" y="1575" width="2012" height="537" stroke="#0a1ef5"/>
<text class="rt" x="2400" y="1764" fill="#0a1ef5">bibliography</text>
</g>
</svg>
